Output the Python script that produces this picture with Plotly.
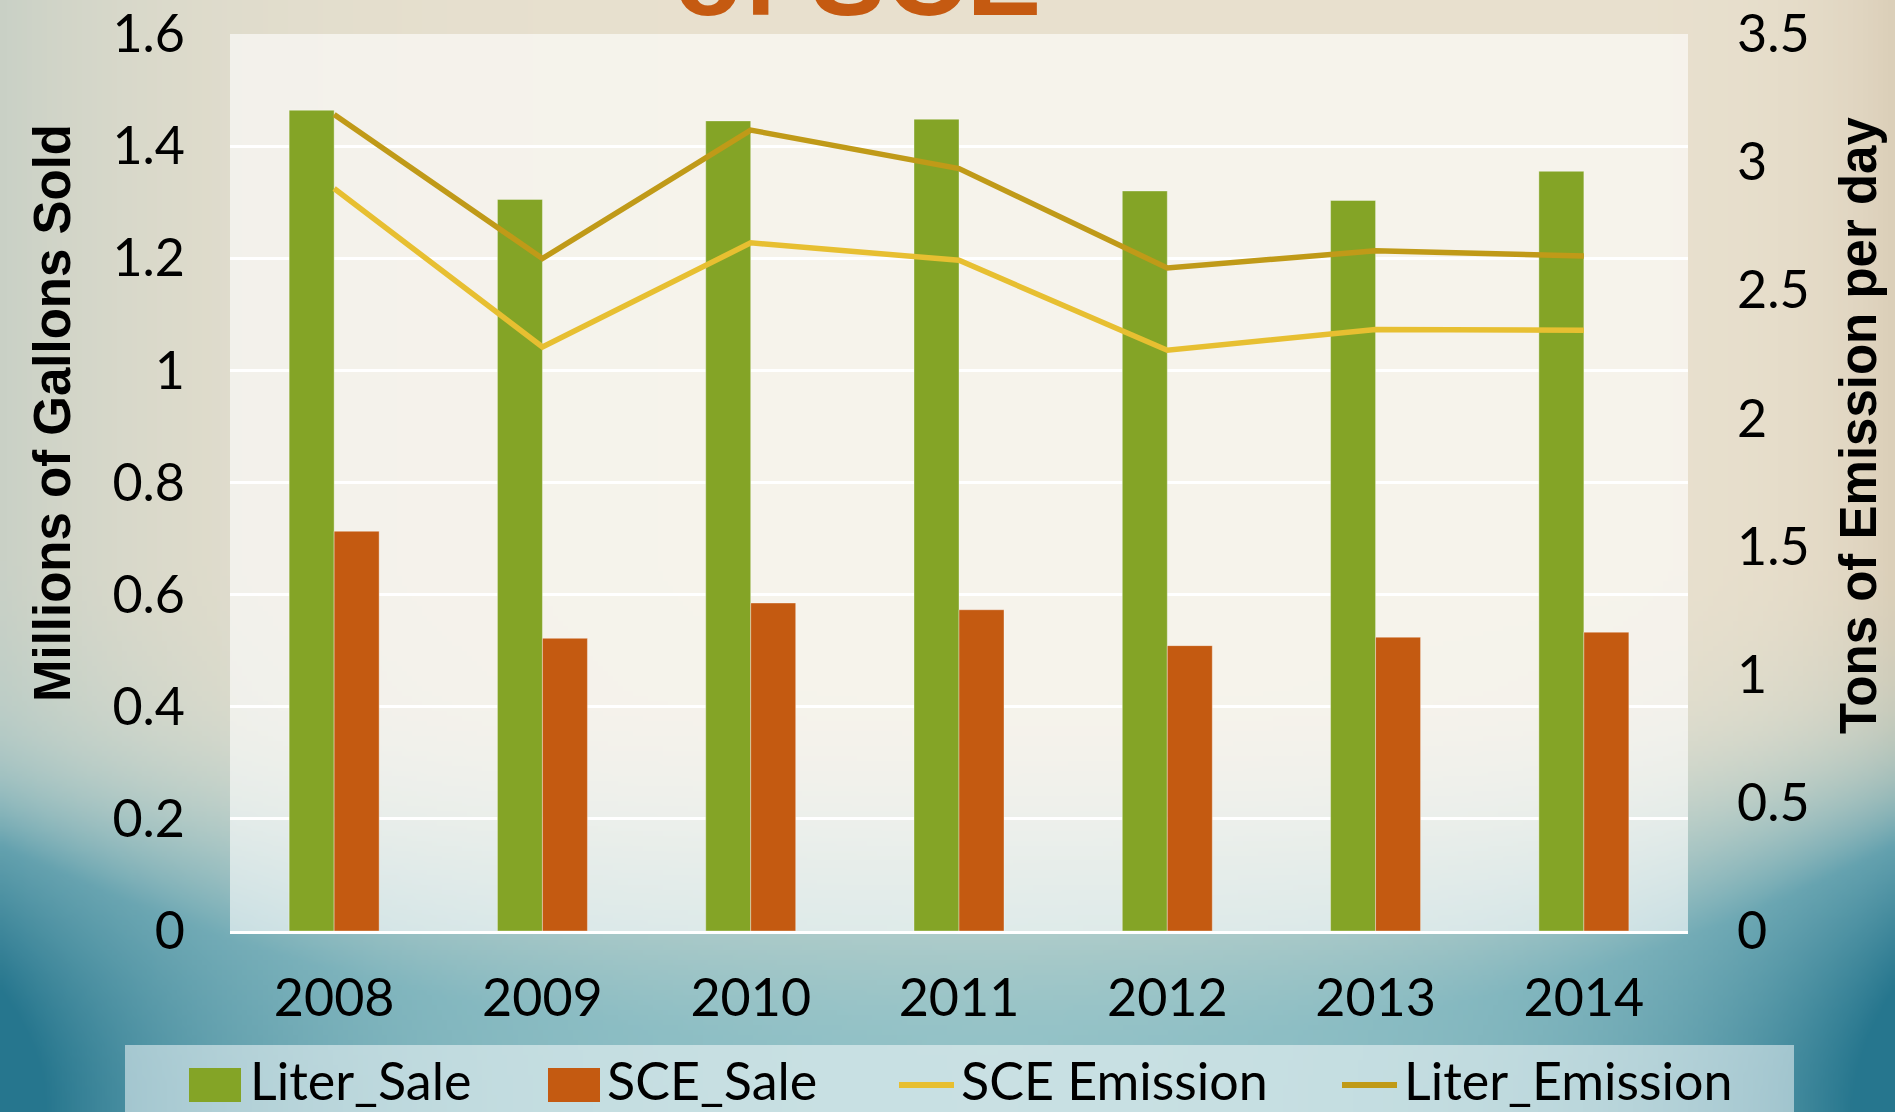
import base64
import struct
import zlib

import numpy as np
import plotly.graph_objects as go

# ---- data ---------------------------------------------------------------
years = ["2008", "2009", "2010", "2011", "2012", "2013", "2014"]
liter_sale = [1.464, 1.305, 1.445, 1.448, 1.320, 1.303, 1.355]      # millions of gallons
sce_sale = [0.713, 0.522, 0.585, 0.573, 0.509, 0.524, 0.533]        # millions of gallons
sce_emission = [2.897, 2.279, 2.685, 2.617, 2.266, 2.347, 2.344]    # tons per day
liter_emission = [3.186, 2.624, 3.125, 2.975, 2.587, 2.654, 2.634]  # tons per day

left_ticks = [0, 0.2, 0.4, 0.6, 0.8, 1, 1.2, 1.4, 1.6]
right_ticks = [0, 0.5, 1, 1.5, 2, 2.5, 3, 3.5]

# ---- style --------------------------------------------------------------
GREEN = "#84A426"
ORANGE = "#C45A11"
SCE_LINE = "#E7BF31"
LITER_LINE = "#C09A18"
TITLE_ORANGE = "#C55A11"

W, H = 1895, 1112
ML, MR, MT, MB = 230, 207, 34, 181
PW, PH = W - ML - MR, H - MT - MB

TICK_FONT = "Century Gothic, Lato, sans-serif"
BOLD_FONT = "Liberation Sans Narrow, Arial Narrow, Liberation Sans, sans-serif"


def px_x(x):
    return (x - ML) / PW


def px_y(y):
    return (H - MB - y) / PH


# ---- textured page background (smooth beige-to-teal wash) ---------------
def smooth(a, b, t):
    t = np.clip((t - a) / (b - a), 0, 1)
    return t * t * (3 - 2 * t)


def background_uri():
    bw, bh = 379, 223
    u, v = np.meshgrid(np.linspace(0, 1, bw), np.linspace(0, 1, bh))
    u = u[..., None]
    v = v[..., None]
    beige = np.array([233, 225, 207], float)
    left_tint = np.array([198, 207, 197], float)
    right_tan = np.array([214, 200, 176], float)
    teal_light = np.array([148, 195, 200], float)
    teal_dark = np.array([38, 118, 142], float)

    col = np.broadcast_to(beige, (bh, bw, 3)).copy()
    lw = np.exp(-u / 0.10) * (1 - smooth(0.6, 1.0, v)) * 0.9
    col = col * (1 - lw) + left_tint * lw
    rw = np.exp(-(1 - u) / 0.04) * 0.7
    col = col * (1 - rw) + right_tan * rw
    edge = np.maximum(np.exp(-u / 0.12), np.exp(-(1 - u) / 0.11))
    teal_w = np.clip(smooth(0.62, 0.98, v) + edge * smooth(0.5, 0.9, v) * 0.9, 0, 1)
    deep = np.clip(edge * smooth(0.6, 1.0, v) * 1.2, 0, 1)
    teal = teal_light * (1 - deep) + teal_dark * deep
    col = col * (1 - teal_w) + teal * teal_w
    img = np.clip(col, 0, 255).astype(np.uint8)

    raw = b"".join(b"\x00" + img[r].tobytes() for r in range(bh))

    def chunk(tag, data):
        return (struct.pack(">I", len(data)) + tag + data
                + struct.pack(">I", zlib.crc32(tag + data) & 0xFFFFFFFF))

    png = (b"\x89PNG\r\n\x1a\n"
           + chunk(b"IHDR", struct.pack(">IIBBBBB", bw, bh, 8, 2, 0, 0, 0))
           + chunk(b"IDAT", zlib.compress(raw, 9))
           + chunk(b"IEND", b""))
    return "data:image/png;base64," + base64.b64encode(png).decode()


# ---- traces -------------------------------------------------------------
fig = go.Figure()
fig.add_trace(go.Bar(name="Liter_Sale", x=years, y=liter_sale, marker_color=GREEN,
                     marker_line=dict(width=0.6, color="rgba(255,255,255,0.6)"),
                     showlegend=False))
fig.add_trace(go.Bar(name="SCE_Sale", x=years, y=sce_sale, marker_color=ORANGE,
                     marker_line=dict(width=0.6, color="rgba(255,255,255,0.6)"),
                     showlegend=False))
fig.add_trace(go.Scatter(name="SCE Emission", x=years, y=sce_emission, yaxis="y2",
                         mode="lines", line=dict(color=SCE_LINE, width=5.5),
                         showlegend=False))
fig.add_trace(go.Scatter(name="Liter_Emission", x=years, y=liter_emission, yaxis="y2",
                         mode="lines", line=dict(color=LITER_LINE, width=5.5),
                         showlegend=False))

# ---- legend drawn as swatches + labels ----------------------------------
shapes = [
    # translucent panel behind the plot area
    dict(type="rect", xref="paper", yref="paper", x0=0, x1=1, y0=0, y1=1,
         fillcolor="rgba(255,255,255,0.6)", line_width=0, layer="below"),
    # translucent legend panel
    dict(type="rect", xref="paper", yref="paper",
         x0=px_x(125), x1=px_x(1794), y0=px_y(1120), y1=px_y(1045),
         fillcolor="rgba(255,255,255,0.5)", line_width=0, layer="below"),
]
legend_items = [
    ("Liter_Sale", "bar", GREEN, 189, 241, 248),
    ("SCE_Sale", "bar", ORANGE, 548, 600, 605),
    ("SCE Emission", "line", SCE_LINE, 899, 954, 959),
    ("Liter_Emission", "line", LITER_LINE, 1342, 1397, 1402),
]
annotations = []
for label, kind, color, sx0, sx1, tx in legend_items:
    if kind == "bar":
        shapes.append(dict(type="rect", xref="paper", yref="paper",
                           x0=px_x(sx0), x1=px_x(sx1), y0=px_y(1102), y1=px_y(1068),
                           fillcolor=color, line_width=0))
    else:
        shapes.append(dict(type="line", xref="paper", yref="paper",
                           x0=px_x(sx0), x1=px_x(sx1), y0=px_y(1085), y1=px_y(1085),
                           line=dict(color=color, width=6)))
    annotations.append(dict(text=label, xref="paper", yref="paper",
                            x=px_x(tx), y=px_y(1080), xanchor="left", yanchor="middle",
                            showarrow=False, font=dict(family=TICK_FONT, size=52, color="black")))

# axis titles
annotations.append(dict(text="<b>Millions of Gallons Sold</b>", xref="paper", yref="paper",
                        x=px_x(52), y=px_y(413), xanchor="center", yanchor="middle",
                        textangle=-90, showarrow=False,
                        font=dict(family=BOLD_FONT, size=51, color="black")))
annotations.append(dict(text="<b>Tons of Emission per day</b>", xref="paper", yref="paper",
                        x=px_x(1859), y=px_y(426), xanchor="center", yanchor="middle",
                        textangle=-90, showarrow=False,
                        font=dict(family=BOLD_FONT, size=51, color="black")))
# chart title (second line, running off the top of the page)
annotations.append(dict(text="<b>of SCE</b>", xref="paper", yref="paper",
                        x=px_x(857), y=1, yshift=-7, xanchor="center", yanchor="bottom",
                        showarrow=False,
                        font=dict(family=BOLD_FONT, size=112, color=TITLE_ORANGE)))

fig.update_layout(
    width=W, height=H,
    margin=dict(l=ML, r=MR, t=MT, b=MB, pad=0, autoexpand=False),
    paper_bgcolor="#E6DFCC",
    plot_bgcolor="rgba(0,0,0,0)",
    barmode="group", bargap=0.568, bargroupgap=0,
    showlegend=False,
    images=[dict(source=background_uri(), xref="paper", yref="paper",
                 x=-ML / PW, y=1 + MT / PH, sizex=W / PW, sizey=H / PH,
                 xanchor="left", yanchor="top", sizing="stretch", layer="below")],
    shapes=shapes,
    annotations=annotations,
    xaxis=dict(type="category", automargin=False, showgrid=False, showline=True,
               linecolor="white", linewidth=3, ticks="", ticklabelstandoff=20,
               tickfont=dict(family=TICK_FONT, size=52, color="black")),
    yaxis=dict(range=[0, 1.6], tickvals=left_ticks, automargin=False, showgrid=True,
               gridcolor="white", gridwidth=2.5, zeroline=False, showline=False, ticks="",
               ticklabelstandoff=44,
               tickfont=dict(family=TICK_FONT, size=52, color="black")),
    yaxis2=dict(range=[0, 3.5], tickvals=right_ticks, overlaying="y", side="right",
                automargin=False, showgrid=False, zeroline=False, showline=False,
                ticks="", ticklabelstandoff=48,
                tickfont=dict(family=TICK_FONT, size=52, color="black")),
)

fig.write_html("out.html")
